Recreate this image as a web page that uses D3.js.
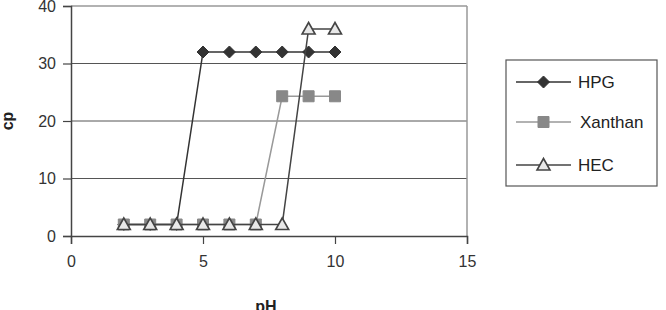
<!DOCTYPE html>
<html>
<head>
<meta charset="utf-8">
<script src="https://cdn.jsdelivr.net/npm/d3@7"></script>
<style>
  body { margin: 0; background: #fff; }
  svg { display: block; font-family: "Liberation Sans", Arial, sans-serif; }
</style>
</head>
<body>
<svg id="chart" width="666" height="310"></svg>
<script>
const pH = [2, 3, 4, 5, 6, 7, 8, 9, 10];
const hpg = [2, 2, 2, 32, 32, 32, 32, 32, 32];
const xanthan = [2, 2, 2, 2, 2, 2, 24.3, 24.3, 24.3];
const hec = [2, 2, 2, 2, 2, 2, 2, 36, 36];
const xTicks = [0, 5, 10, 15];
const yTicks = [0, 10, 20, 30, 40];

const seriesList = [
  { name: "HPG", y: hpg, shape: "diamond", line: "#333", fill: "#333", stroke: "#333" },
  { name: "Xanthan", y: xanthan, shape: "square", line: "#999", fill: "#888", stroke: "#888" },
  { name: "HEC", y: hec, shape: "triangle", line: "#444", fill: "#e8e8e8", stroke: "#444" }
];

const svg = d3.select("svg#chart");
const margin = { left: 71, right: 199, top: 6, bottom: 74 };
const W = 666, H = 310;

const xScale = d3.scaleLinear().domain([0, 15]).range([margin.left, W - margin.right]);
const yScale = d3.scaleLinear().domain([0, 40]).range([H - margin.bottom, margin.top]);

// gridlines
svg.append("g")
  .selectAll("line")
  .data(yTicks.filter(d => d > 0))
  .enter()
  .append("line")
  .attr("x1", xScale(0))
  .attr("x2", xScale(15))
  .attr("y1", d => yScale(d))
  .attr("y2", d => yScale(d))
  .attr("stroke", d => d == 40 ? "#999" : "#555")
  .attr("stroke-width", d => d == 40 ? 1.5 : 1);

// right border of plot area
svg.append("line")
  .attr("x1", xScale(15)).attr("x2", xScale(15))
  .attr("y1", yScale(40)).attr("y2", yScale(0))
  .attr("stroke", "#999").attr("stroke-width", 1.5);

// axes
const xAxis = svg.append("g")
  .attr("transform", `translate(0,${yScale(0)})`)
  .call(d3.axisBottom(xScale).tickValues(xTicks).tickSize(8).tickPadding(12));
const yAxis = svg.append("g")
  .attr("transform", `translate(${xScale(0)},0)`)
  .call(d3.axisLeft(yScale).tickValues(yTicks).tickSize(8).tickPadding(7));

[xAxis, yAxis].forEach(ax => {
  ax.select(".domain").attr("stroke", "#444").attr("stroke-width", 1.5);
  ax.selectAll(".tick line").attr("stroke", "#444").attr("stroke-width", 1.2);
  ax.selectAll(".tick text")
    .attr("fill", "#333")
    .style("font-size", "16px")
    .style("font-family", "Liberation Sans, Arial, sans-serif");
});

// axis titles
svg.append("text")
  .attr("x", 266).attr("y", 312)
  .attr("text-anchor", "middle")
  .attr("font-weight", "bold")
  .attr("font-size", 16)
  .attr("fill", "#222")
  .text("pH");

svg.append("text")
  .attr("transform", `translate(13,${yScale(20)}) rotate(-90)`)
  .attr("text-anchor", "middle")
  .attr("font-weight", "bold")
  .attr("font-size", 16)
  .attr("fill", "#222")
  .text("cp");

function symbolPath(shape) {
  if (shape == "diamond") return "M0,-6L6,0L0,6L-6,0Z";
  if (shape == "square") return "M-5.5,-5.5H5.5V5.5H-5.5Z";
  return "M0,-6.5L6.5,5L-6.5,5Z";
}

const line = d3.line().x(d => xScale(d[0])).y(d => yScale(d[1]));

seriesList.forEach(s => {
  const pts = pH.map((v, i) => [v, s.y[i]]);
  const g = svg.append("g");
  g.append("path")
    .datum(pts)
    .attr("d", line)
    .attr("fill", "none")
    .attr("stroke", s.line)
    .attr("stroke-width", 1.5);
  g.selectAll("path.pt")
    .data(pts)
    .enter()
    .append("path")
    .attr("class", "pt")
    .attr("transform", d => `translate(${xScale(d[0])},${yScale(d[1])})`)
    .attr("d", symbolPath(s.shape))
    .attr("fill", s.fill)
    .attr("stroke", s.stroke)
    .attr("stroke-width", s.shape == "triangle" ? 1.6 : 1);
});

// legend
const legend = svg.append("g");
legend.append("rect")
  .attr("x", 506).attr("y", 60)
  .attr("width", 151).attr("height", 126)
  .attr("fill", "#fff")
  .attr("stroke", "#555")
  .attr("stroke-width", 1.2);

const legendY = [82, 122, 165];
seriesList.forEach((s, i) => {
  const y = legendY[i];
  legend.append("line")
    .attr("x1", 516).attr("x2", 571)
    .attr("y1", y).attr("y2", y)
    .attr("stroke", s.line)
    .attr("stroke-width", 1.5);
  legend.append("path")
    .attr("transform", `translate(543.5,${y})`)
    .attr("d", symbolPath(s.shape))
    .attr("fill", s.fill)
    .attr("stroke", s.stroke)
    .attr("stroke-width", s.shape == "triangle" ? 1.6 : 1);
  legend.append("text")
    .attr("x", s.name == "Xanthan" ? 580 : 578)
    .attr("y", y + 6)
    .attr("font-size", 17)
    .attr("fill", "#222")
    .text(s.name);
});
</script>
</body>
</html>
